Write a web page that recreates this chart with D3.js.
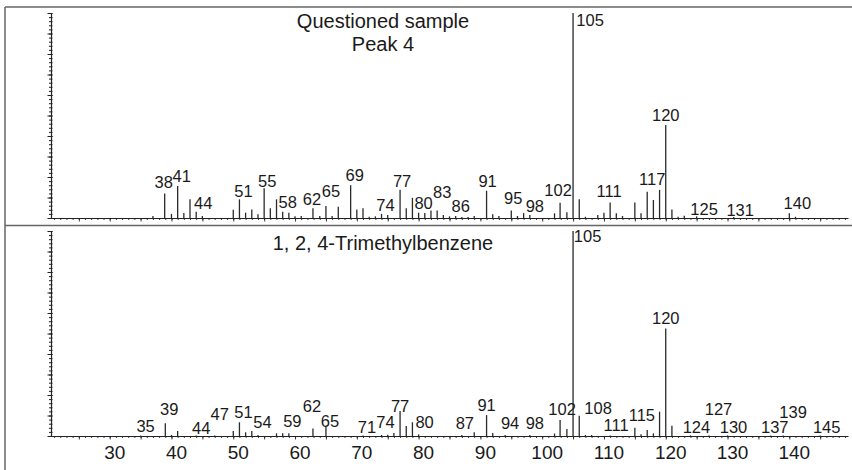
<!DOCTYPE html>
<html>
<head>
<meta charset="utf-8">
<script src="https://cdn.jsdelivr.net/npm/d3@7"></script>
<style>
  body { margin: 0; background: #fff; }
  svg { display: block; }
  text { font-family: "Liberation Sans", Arial, Helvetica, sans-serif; fill: #1a1a1a; }
</style>
</head>
<body>
<svg id="chart" width="852" height="470"></svg>
<script>
// Labelled positions on the shared m/z axis
const massTicks = [30, 40, 50, 60, 70, 80, 90, 100, 110, 120, 130, 140];

// Questioned sample, peak 4: centroid m/z and relative abundance (%)
const sampleMz = [37, 38.9, 40, 41, 42, 43, 44, 45,
  50, 51, 52, 53, 54, 55, 56, 57, 58, 59, 60, 61,
  62.9, 64, 65, 66, 67, 69, 70, 71, 72, 73, 74, 75,
  77, 78, 79, 80, 81, 82, 83, 84, 85, 86, 87, 88, 89,
  91, 92, 93, 95, 96, 97, 98, 102, 102.9, 104, 105, 106, 107,
  109, 110, 111, 112, 113, 115, 116, 117, 118, 119, 120, 121, 122, 123,
  125, 131, 140, 141];
const sampleAbundance = [1, 12, 2, 15.6, 2.4, 9.1, 3, 1,
  4, 9.1, 2.6, 4.2, 1.8, 14.5, 4.7, 9.1, 3, 2.6, 0.8, 1,
  4.7, 1, 5.9, 1, 5.5, 16, 4.2, 4.7, 0.6, 0.8, 2, 1.5,
  13.8, 4.7, 9.8, 2.6, 2.4, 3.6, 3.6, 1.5, 0.8, 1, 0.5, 0.5, 1,
  13.3, 1.8, 1, 3.6, 1, 2.4, 1.5, 2.3, 7.5, 2.8, 100, 9.1, 0.6,
  1.5, 2.6, 7.6, 2.3, 1, 7.6, 2.3, 12.8, 8.8, 13.7, 45.4, 4.2, 0.6, 1.1,
  0.8, 0.5, 2.3, 0.6];
// Peaks that carry an m/z annotation (text is the truncated centroid mass)
const sampleLabelled = [38.9, 41, 44, 51, 55, 58, 62.9, 65, 69, 74, 77, 80, 83, 86,
  91, 95, 98, 102.9, 105, 111, 117, 120, 125, 131, 140];

// Library spectrum, 1,2,4-trimethylbenzene
const libraryMz = [35, 39, 40, 41, 44, 47, 50, 51, 52, 53, 54, 57, 58, 59,
  62.9, 65, 71, 74, 75, 76, 77, 78, 79, 80, 87, 89, 91, 92, 94, 98,
  102, 102.9, 104, 105, 106, 107, 108, 111, 115, 116, 117, 118, 119, 120, 121,
  124, 127, 130, 137, 139, 145];
const libraryAbundance = [0.2, 6.2, 0.5, 2.4, 0.3, 0.3, 2.4, 6.7, 1.8, 2.4, 0.5, 1.3, 1.3, 1.3,
  3.7, 4.5, 0.3, 0.5, 0.6, 1.5, 12.2, 4.9, 6.7, 0.8, 0.5, 1.8, 10.2, 1.5, 0.5, 0.5,
  1.2, 7.8, 3.4, 100, 9.9, 0.5, 0.5, 0.3, 4, 0.8, 2.9, 1.3, 11.9, 52.5, 5,
  0.3, 0.3, 0.3, 0.3, 0.3, 0.3];
const libraryLabelled = [35, 39, 44, 47, 51, 54, 59, 62.9, 65, 71, 74, 77, 80, 87,
  91, 94, 98, 102.9, 105, 108, 111, 115, 120, 124, 127, 130, 137, 139, 145];

// Annotation placement: offsets in px from the default spot centred over the peak
const sampleNudge = {
  38: [-1, -1], 41: [4, 0], 44: [7, 1], 51: [4, 2], 55: [3, 3], 58: [5, 0],
  62: [-1, 1], 65: [5, -5], 69: [4, 0], 74: [4, 1], 77: [2, 1], 80: [5, 0],
  83: [5, -9], 86: [5, 0], 91: [1, 0], 95: [2, -3], 98: [5, 1], 102: [-2, -3],
  105: [17, 17], 111: [-1, -1], 117: [5, -3], 120: [0, 0], 125: [7.5, 2.5],
  131: [6.5, 3], 140: [8, 0]
};
const libraryNudge = {
  35: [5, 0], 39: [4, -4], 44: [5, 3], 47: [5, -11], 51: [4, 0], 54: [4.5, -3],
  59: [3.5, -2], 62: [-1, -12], 65: [4, 4], 71: [4, 2], 74: [4, -3], 77: [0, 5],
  80: [6, -2], 87: [3, -2], 91: [0, 0], 94: [5, -2], 98: [5, -2], 102: [2, -1],
  105: [14.5, 15], 108: [6.5, -17], 111: [6, 0], 115: [7, -3], 120: [0, 0],
  124: [6, 2], 127: [9.5, -16], 130: [6, 2], 137: [4, 2], 139: [10, -13], 145: [6.5, 2]
};

const svg = d3.select('#chart');
const x = d3.scaleLinear().domain([20.5, 149.5]).range([51, 848]);

// Outer frame and panel divider
const frame = svg.append('g').attr('stroke', '#666').attr('stroke-width', 1.5).attr('fill', 'none');
frame.append('line').attr('x1', 5).attr('y1', 7).attr('x2', 5).attr('y2', 470);
frame.append('line').attr('x1', 5).attr('y1', 7).attr('x2', 852).attr('y2', 7);
frame.append('line').attr('x1', 5).attr('y1', 225.5).attr('x2', 852).attr('y2', 225.5);

const panels = [
  { mz: sampleMz, ab: sampleAbundance, labelled: sampleLabelled, nudge: sampleNudge,
    top: 13, base: 218, titles: ['Questioned sample', 'Peak 4'], titleY: [27.7, 50.7], showMass: false },
  { mz: libraryMz, ab: libraryAbundance, labelled: libraryLabelled, nudge: libraryNudge,
    top: 231, base: 436, titles: ['1, 2, 4-Trimethylbenzene'], titleY: [250], showMass: true }
];

panels.forEach(p => {
  const y = d3.scaleLinear().domain([0, 100]).range([p.base, p.top]);
  const g = svg.append('g');

  // Abundance axis: fine ticks straddling the axis, longer every 10 %
  const yMinor = g.append('g').attr('transform', `translate(${x.range()[0]},0)`)
    .call(d3.axisLeft(y).tickValues(d3.range(0, 101, 2)).tickSize(2).tickSizeOuter(0).tickFormat(''));
  const yMajor = g.append('g').attr('transform', `translate(${x.range()[0]},0)`)
    .call(d3.axisLeft(y).tickValues(d3.range(0, 101, 10)).tickSize(3.5).tickSizeOuter(0).tickFormat(''));
  yMajor.select('.domain').remove();
  [yMinor, yMajor].forEach(a => {
    a.selectAll('.tick line').attr('stroke', '#222').attr('x1', 1.5);
    a.select('.domain').attr('stroke', '#222').attr('stroke-width', 1.2);
  });

  // Mass axis baseline with unit ticks
  const xMinor = g.append('g').attr('transform', `translate(0,${p.base})`)
    .call(d3.axisBottom(x).tickValues(d3.range(21, 150, 1)).tickSize(2).tickSizeOuter(0).tickFormat(''));
  const xMajor = g.append('g').attr('transform', `translate(0,${p.base})`)
    .call(d3.axisBottom(x).tickValues(d3.range(25, 150, 5)).tickSize(3.5).tickSizeOuter(0).tickFormat(''));
  xMajor.select('.domain').remove();
  [xMinor, xMajor].forEach(a => {
    a.selectAll('line').attr('stroke', '#222').attr('stroke-width', 0.9);
    a.select('.domain').attr('stroke', '#222').attr('stroke-width', 1.2);
  });

  if (p.showMass) {
    const lab = g.append('g').attr('transform', `translate(0,${p.base})`)
      .call(d3.axisBottom(x).tickValues(massTicks).tickSize(0).tickFormat(d3.format('d')));
    lab.select('.domain').remove();
    lab.selectAll('text')
      .attr('dy', 0).attr('y', 23.3).attr('dx', 4.5)
      .style('font-size', '19px').attr('fill', '#1a1a1a');
  }

  // Peak sticks
  const peaks = p.mz.map((m, i) => ({ m, a: p.ab[i] }));
  g.append('g').selectAll('line').data(peaks).join('line')
    .attr('x1', d => x(d.m)).attr('x2', d => x(d.m))
    .attr('y1', y(0)).attr('y2', d => y(d.a))
    .attr('stroke', '#2a2a2a').attr('stroke-width', 1.3);

  // m/z annotations above peaks
  const ann = p.labelled.map(m => {
    const a = p.ab[p.mz.indexOf(m)];
    const t = String(Math.floor(m));
    const n = p.nudge[t] || [0, 0];
    return { m, a, t, dx: n[0], dy: n[1] };
  });
  g.append('g').selectAll('text').data(ann).join('text')
    .attr('x', d => x(d.m) + d.dx)
    .attr('y', d => y(d.a) - 4 + d.dy)
    .attr('text-anchor', 'middle')
    .style('font-size', '16.5px')
    .text(d => d.t);

  // Panel titles
  g.append('g').selectAll('text').data(p.titles).join('text')
    .attr('x', 383)
    .attr('y', (d, i) => p.titleY[i])
    .attr('text-anchor', 'middle')
    .style('font-size', '20px')
    .text(d => d);
});
</script>
</body>
</html>
